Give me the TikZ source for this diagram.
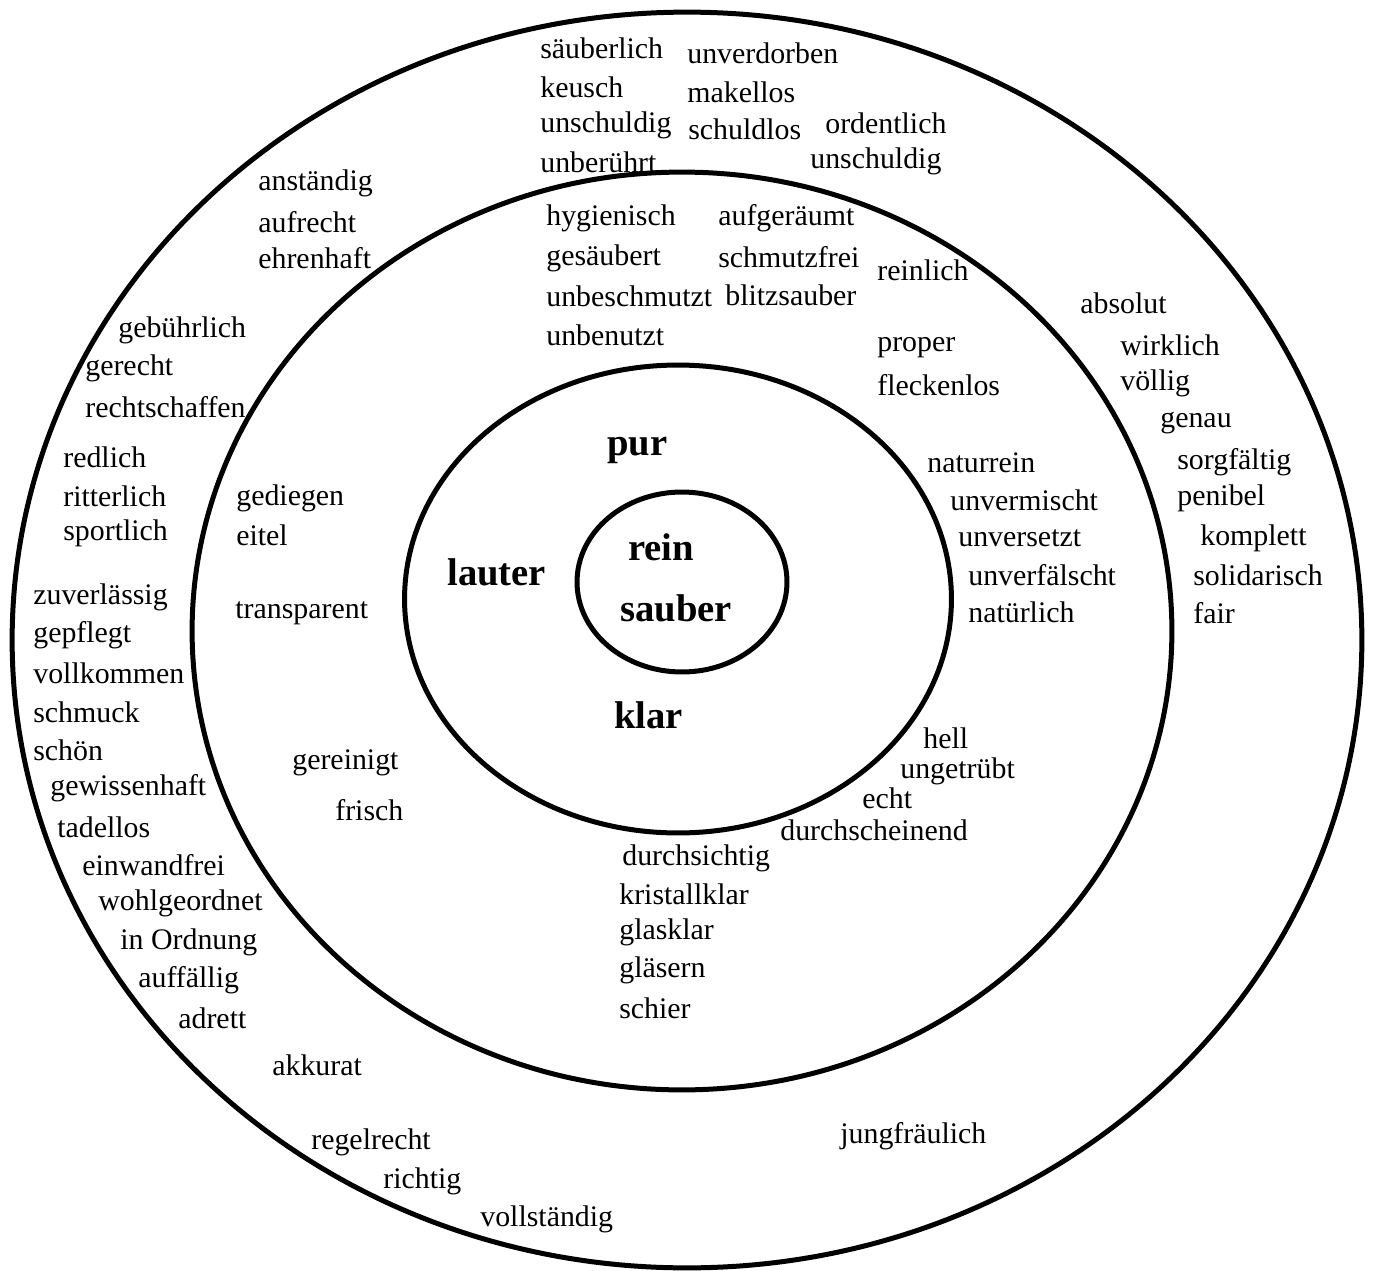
\documentclass[tikz,border=0pt]{standalone}
\usepackage{fontspec}
\setmainfont{Liberation Serif}
\newfontfamily\wordfont{Liberation Serif}
\usepackage{tikz}

\tikzset{
	word/.style={anchor=west, inner sep=0pt, font=\wordfont\fontsize{17}{20}\selectfont},
	keyword/.style={anchor=west, inner sep=0pt, font=\wordfont\fontsize{22}{26}\selectfont\bfseries},
	ring/.style={line width=1mm}
}

\begin{document}
\begin{tikzpicture}[x=0.02cm, y=-0.02cm]
		%%%%% START %%%%%
		\useasboundingbox (0, 0) rectangle (1373, 1271);
		
		\draw[ring] (687, 640) ellipse (13.5cm and 12.56cm);
		\draw[ring] (682, 631) ellipse (9.8cm and 9.18cm);
		\draw[ring] (678, 599) ellipse (5.47cm and 4.68cm);
		\draw[ring] (682, 582) ellipse (2.1cm and 1.8cm);
		
		% middle
		\node[keyword] (rein) at (628, 547) {rein};
		\node[keyword] (sauber) at (620, 608) {sauber};
		\node[keyword] (pur) at (607, 450) {pur};
		\node[keyword] (lauter) at (447, 572) {lauter};
		\node[keyword] (klar) at (614, 715) {klar};
		
		% second ring
		\node[word] (hygienisch) at (546, 218) {hygienisch};
		\node[word] (gesaeubert) at (546, 258) {gesäubert};
		\node[word] (unbeschmutzt) at (546, 296) {unbeschmutzt};
		\node[word] (unbenutzt) at (546, 335) {unbenutzt};
		\node[word] (aufgeraeumt) at (718, 218) {aufgeräumt};
		\node[word] (schmutzfrei) at (718, 257) {schmutzfrei};
		\node[word] (blitzsauber) at (725, 295) {blitzsauber};
		\node[word] (reinlich) at (877, 270) {reinlich};
		\node[word] (proper) at (877, 348) {proper};
		\node[word] (fleckenlos) at (877, 385) {fleckenlos};
		
		\node[word] (naturrein) at (927, 463) {naturrein};
		\node[word] (unvermischt) at (950, 500) {unvermischt};
		\node[word] (unversetzt) at (958, 538) {unversetzt};
		\node[word] (unverfaelscht) at (968, 575) {unverfälscht};
		\node[word] (natuerlich) at (968, 612) {natürlich};
		
		\node[word] (hell) at (923, 738) {hell};
		\node[word] (ungetruebt) at (900, 771) {ungetrübt};
		\node[word] (echt) at (862, 798) {echt};
		\node[word] (durchscheinend) at (780, 830) {durchscheinend};
		
		\node[word] (durchsichtig) at (622, 858) {durchsichtig};
		\node[word] (kristallklar) at (619, 894) {kristallklar};
		\node[word] (glasklar) at (619, 932) {glasklar};
		\node[word] (glaesern) at (619, 970) {gläsern};
		\node[word] (schier) at (619, 1008) {schier};
		
		\node[word] (gediegen) at (236, 498) {gediegen};
		\node[word] (eitel) at (236, 535) {eitel};
		\node[word] (transparent) at (235, 613) {transparent};
		\node[word] (gereinigt) at (292, 763) {gereinigt};
		\node[word] (frisch) at (335, 810) {frisch};
		
		% outer ring, top
		\node[word] (saeuberlich) at (540, 48) {säuberlich};
		\node[word] (keusch) at (540, 87) {keusch};
		\node[word] (unschuldigA) at (540, 125) {unschuldig};
		\node[word] (unberuehrt) at (540, 162) {unberührt};
		\node[word] (unverdorben) at (687, 53) {unverdorben};
		\node[word] (makellos) at (687, 92) {makellos};
		\node[word] (schuldlos) at (688, 129) {schuldlos};
		\node[word] (ordentlich) at (825, 123) {ordentlich};
		\node[word] (unschuldigB) at (810, 161) {unschuldig};
		
		% outer ring, left
		\node[word] (anstaendig) at (258, 183) {anständig};
		\node[word] (aufrecht) at (258, 222) {aufrecht};
		\node[word] (ehrenhaft) at (258, 258) {ehrenhaft};
		\node[word] (gebuehrlich) at (118, 330) {gebührlich};
		\node[word] (gerecht) at (85, 368) {gerecht};
		\node[word] (rechtschaffen) at (85, 407) {rechtschaffen};
		\node[word] (redlich) at (63, 457) {redlich};
		\node[word] (ritterlich) at (63, 496) {ritterlich};
		\node[word] (sportlich) at (63, 533) {sportlich};
		\node[word] (zuverlaessig) at (33, 597) {zuverlässig};
		\node[word] (gepflegt) at (33, 635) {gepflegt};
		\node[word] (vollkommen) at (33, 673) {vollkommen};
		\node[word] (schmuck) at (33, 712) {schmuck};
		\node[word] (schoen) at (33, 750) {schön};
		\node[word] (gewissenhaft) at (50, 788) {gewissenhaft};
		\node[word] (tadellos) at (57, 827) {tadellos};
		\node[word] (einwandfrei) at (82, 865) {einwandfrei};
		\node[word] (wohlgeordnet) at (98, 903) {wohlgeordnet};
		\node[word] (inordnung) at (120, 942) {in Ordnung};
		\node[word] (auffaellig) at (138, 980) {auffällig};
		\node[word] (adrett) at (178, 1018) {adrett};
		
		% outer ring, bottom
		\node[word] (akkurat) at (272, 1065) {akkurat};
		\node[word] (regelrecht) at (311, 1142) {regelrecht};
		\node[word] (richtig) at (383, 1181) {richtig};
		\node[word] (vollstaendig) at (480, 1219) {vollständig};
		\node[word] (jungfraeulich) at (840, 1136) {jungfräulich};
		
		% outer ring, right
		\node[word] (absolut) at (1080, 303) {absolut};
		\node[word] (wirklich) at (1120, 345) {wirklich};
		\node[word] (voellig) at (1120, 383) {völlig};
		\node[word] (genau) at (1160, 423) {genau};
		\node[word] (sorgfaeltig) at (1177, 462) {sorgfältig};
		\node[word] (penibel) at (1177, 498) {penibel};
		\node[word] (komplett) at (1200, 538) {komplett};
		\node[word] (solidarisch) at (1193, 575) {solidarisch};
		\node[word] (fair) at (1193, 613) {fair};
		
		%%%%% END %%%%%
	\end{tikzpicture}
\end{document}
